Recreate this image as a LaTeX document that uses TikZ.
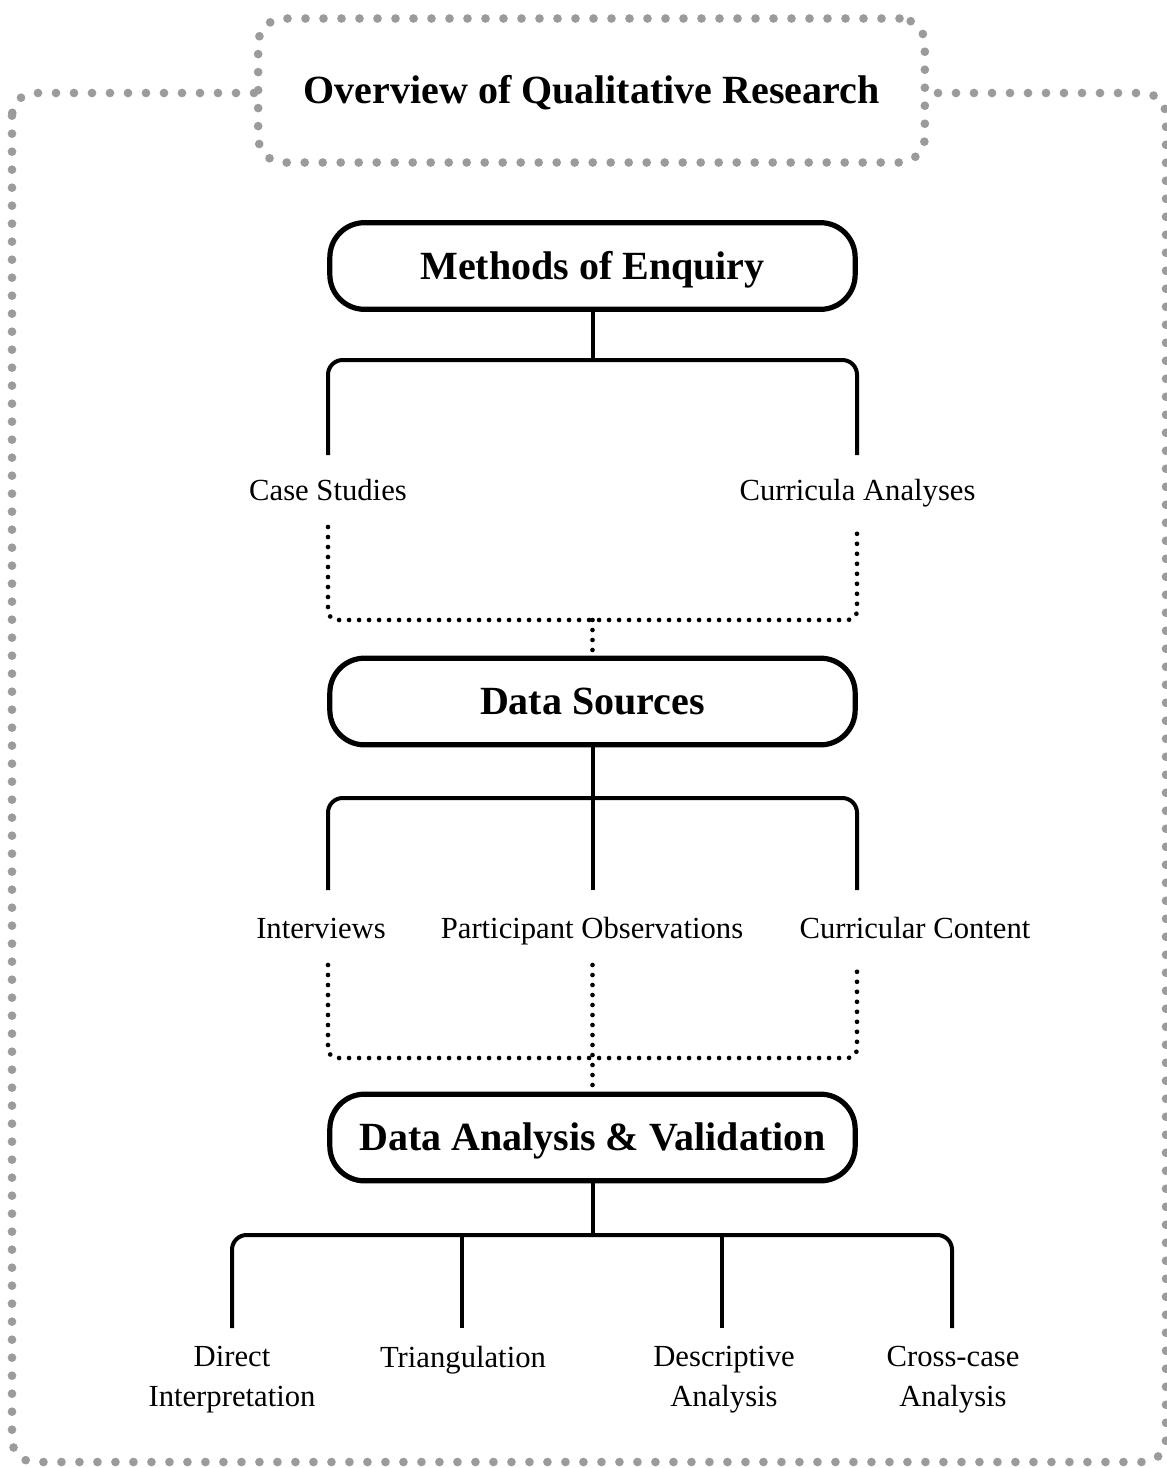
\documentclass[tikz,border=0pt]{standalone}
\usepackage{fontspec}
\setmainfont{Liberation Serif}
\definecolor{framegray}{HTML}{9B9B9B}

\begin{document}
\begin{tikzpicture}[x=0.75pt, y=-0.75pt,
    frame/.style={draw=framegray, line width=6.5pt, line cap=round, dash pattern=on 0pt off 13.5pt, rounded corners=17pt},
    head/.style={draw, line width=3.9pt, rounded corners=26pt, minimum width=394pt, minimum height=65pt,
                 text height=20pt, text depth=0pt, font=\fontsize{30}{36}\selectfont\bfseries},
    leaf/.style={font=\fontsize{23}{30}\selectfont, align=center},
    link/.style={line width=3pt},
    fork/.style={link, rounded corners=11pt},
    dots/.style={line width=3.5pt, line cap=round, dash pattern=on 0pt off 7.5pt, rounded corners=7pt}]

  \useasboundingbox (0,0) rectangle (1167,1468);

  % frame and title
  \draw[frame] (12,93) rectangle (1166,1462);
  \node[frame, fill=white, rounded corners=19pt, minimum width=500pt, minimum height=108pt,
        text height=20pt, text depth=0pt,
        font=\fontsize{30}{36}\selectfont\bfseries] (title) at (591.5,90.5) {Overview of Qualitative Research};

  % methods of enquiry
  \node[head] (moe) at (592.5,266) {Methods of Enquiry};
  \coordinate (moe-fork) at (592.5,360);
  \coordinate (cs-in) at (328,455);
  \coordinate (ca-in) at (857,455);
  \draw[link] (moe.south) -- (moe-fork);
  \draw[fork] (cs-in) |- (moe-fork) -| (ca-in);
  \node[leaf, anchor=base] (cs) at (328,500) {Case Studies};
  \node[leaf, anchor=base] (ca) at (857.5,500) {Curricula Analyses};

  % data sources
  \node[head] (ds) at (592.5,701.5) {Data Sources};
  \coordinate (cs-out) at (328,527);
  \coordinate (ca-out) at (857,527);
  \coordinate (moe-join) at (592.5,620);
  \draw[dots] (cs-out) |- (moe-join) -| (ca-out);
  \draw[dots] (moe-join) -- (ds.north);

  \coordinate (ds-fork) at (592.5,798);
  \coordinate (ivw-in) at (328,890);
  \coordinate (po-in) at (592.5,890);
  \coordinate (cc-in) at (857,890);
  \draw[link] (ds.south) -- (po-in);
  \draw[fork] (ivw-in) |- (ds-fork) -| (cc-in);
  \node[leaf, anchor=base] (ivw) at (321,938) {Interviews};
  \node[leaf, anchor=base] (po) at (592,938) {Participant Observations};
  \node[leaf, anchor=base] (cc) at (915,938) {Curricular Content};

  % data analysis and validation
  \node[head] (dav) at (592.5,1137.5) {Data Analysis \& Validation};
  \coordinate (ivw-out) at (328,965);
  \coordinate (po-out) at (592.5,965);
  \coordinate (cc-out) at (857,965);
  \coordinate (ds-join) at (592.5,1058);
  \draw[dots] (ivw-out) |- (ds-join) -| (cc-out);
  \draw[dots] (po-out) -- (dav.north);

  \coordinate (dav-fork) at (592.5,1235);
  \coordinate (di-in) at (232,1328);
  \coordinate (tri-in) at (462,1328);
  \coordinate (da-in) at (722,1328);
  \coordinate (cca-in) at (952,1328);
  \draw[link] (dav.south) -- (dav-fork);
  \draw[fork] (di-in) |- (dav-fork) -| (cca-in);
  \draw[link] (tri-in) -- (tri-in |- dav-fork);
  \draw[link] (da-in) -- (da-in |- dav-fork);
  \node[leaf] (di) at (232,1380) {Direct\\Interpretation};
  \node[leaf, anchor=base] (tri) at (463,1367) {Triangulation};
  \node[leaf] (da) at (724,1380) {Descriptive\\Analysis};
  \node[leaf] (cca) at (953,1380) {Cross-case\\Analysis};
\end{tikzpicture}
\end{document}
